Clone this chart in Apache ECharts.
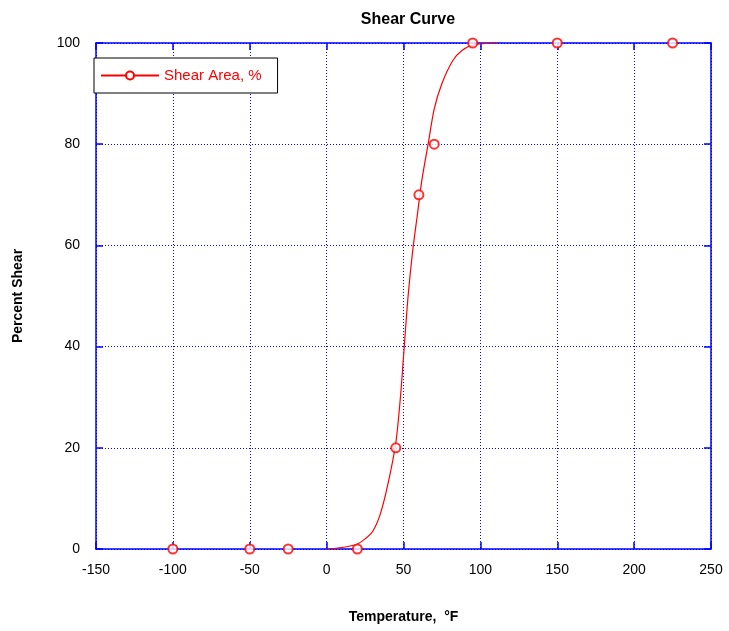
<!DOCTYPE html>
<html>
<head>
<meta charset="utf-8">
<script src="https://cdn.jsdelivr.net/npm/echarts@6/dist/echarts.min.js"></script>
<style>
  html, body { margin: 0; padding: 0; background: #fff; }
  #main { width: 729px; height: 631px; }
</style>
</head>
<body>
<div id="main"></div>
<script>
// measured points (temperature, percent shear)
var testTemps = [-100, -50, -25, 20, 45, 60, 70, 95, 150, 225];
var testShear = [0, 0, 0, 0, 20, 70, 80, 100, 100, 100];
// fitted curve
var curveTemps = [0, 10, 20, 25, 30, 35, 40, 45, 48, 50, 53, 56, 59, 62, 66, 70, 75, 82, 88, 95, 111];
var curveShear = [0, 0.3, 1, 2, 3.5, 7, 13, 21, 30, 38, 50, 59, 66, 73, 80, 87, 92, 96.5, 98.5, 99.6, 100];
var xTicks = [-150, 250, 50];
var yTicks = [0, 100, 20];

var blue = '#0000ff';
var red = '#ff0000';

function pairs(xs, ys) {
  var out = [];
  for (var i = 0; i < xs.length; i++) out.push([xs[i], ys[i]]);
  return out;
}

function axis(pos, ticks, labels, name) {
  return {
    type: 'value',
    position: pos,
    min: ticks[0], max: ticks[1], interval: ticks[2],
    name: name,
    axisLine: { show: true, onZero: false, lineStyle: { color: blue, width: 1.5 } },
    axisTick: { show: true, inside: true, length: 7, lineStyle: { color: blue, width: 1.5 } },
    axisLabel: { show: labels, color: '#000', fontFamily: 'Liberation Sans', fontSize: 14, margin: 14 },
    splitLine: { show: labels, lineStyle: { color: blue, type: [1, 2], width: 1 } }
  };
}

var chart = echarts.init(document.getElementById('main'));
var xBottom = axis('bottom', xTicks, true, 'Temperature,  \u00b0F');
xBottom.nameLocation = 'middle';
xBottom.nameGap = 61;
xBottom.nameTextStyle = { color: '#000', fontFamily: 'Liberation Sans', fontWeight: 'bold', fontSize: 14 };
var yLeft = axis('left', yTicks, true, 'Percent Shear');
yLeft.nameLocation = 'middle';
yLeft.nameGap = 71;
yLeft.nameTextStyle = { color: '#000', fontFamily: 'Liberation Sans', fontWeight: 'bold', fontSize: 14 };
yLeft.axisLabel.margin = 16;

var option = {
  backgroundColor: '#fff',
  animation: false,
  title: {
    text: 'Shear Curve',
    left: 403, top: 7, textAlign: 'center',
    textStyle: { color: '#000', fontFamily: 'Liberation Sans', fontWeight: 'bold', fontSize: 16 }
  },
  grid: { left: 96, right: 18, top: 43, bottom: 82 },
  legend: {
    left: 94, top: 58,
    orient: 'vertical',
    data: ['Shear Area, %'],
    backgroundColor: '#fff',
    borderColor: '#000', borderWidth: 1,
    padding: [10, 16, 10, 6],
    itemWidth: 58, itemHeight: 10,
    itemGap: 5,
    textStyle: { color: red, fontFamily: 'Liberation Sans', fontSize: 15 }
  },
  xAxis: [xBottom, axis('top', xTicks, false)],
  yAxis: [yLeft, axis('right', yTicks, false)],
  series: [
    {
      name: 'Shear Area, %',
      type: 'line',
      data: pairs(curveTemps, curveShear),
      symbol: 'emptyCircle',
      symbolSize: 9,
      showSymbol: false,
      smooth: 0.3,
      lineStyle: { color: red, width: 1.2 },
      itemStyle: { color: red, borderColor: red, borderWidth: 1.5 },
      z: 3
    },
    {
      name: 'Shear Area, %',
      type: 'scatter',
      data: pairs(testTemps, testShear),
      symbol: 'emptyCircle',
      symbolSize: 9,
      itemStyle: { color: red, borderColor: red, borderWidth: 1.5 },
      z: 4
    }
  ]
};
chart.setOption(option);
</script>
</body>
</html>
